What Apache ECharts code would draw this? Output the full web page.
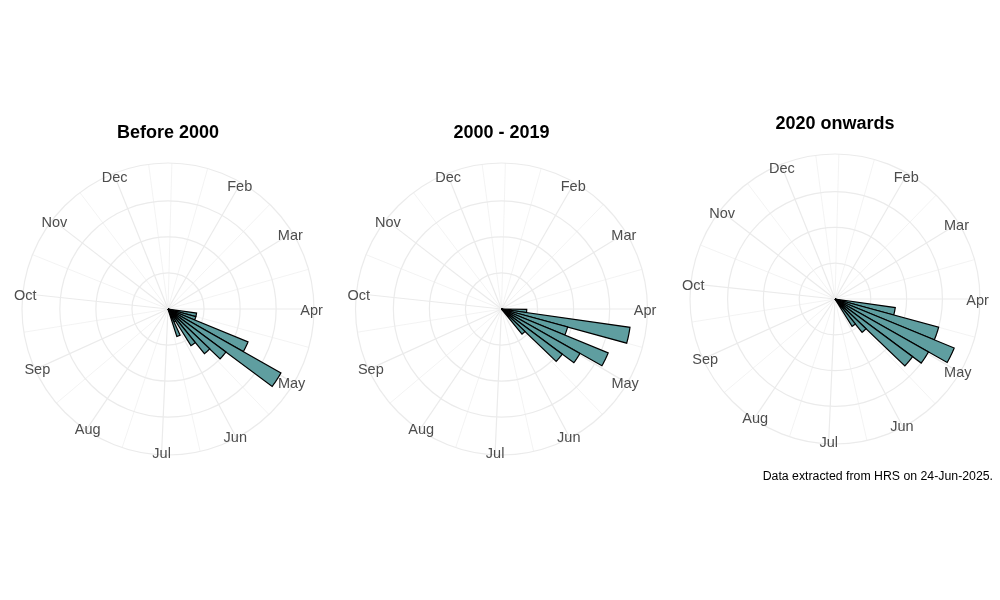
<!DOCTYPE html>
<html><head><meta charset="utf-8">
<script src="https://cdn.jsdelivr.net/npm/echarts@6/dist/echarts.min.js"></script>
<style>html,body{margin:0;padding:0;background:#fff}#chart{width:1000px;height:600px}</style>
</head><body><div id="chart"></div>
<script>
// ---- data ----
const panelTitles = ['Before 2000', '2000 - 2019', '2020 onwards'];
const monthLabels = ['Feb','Mar','Apr','May','Jun','Jul','Aug','Sep','Oct','Nov','Dec'];
const monthStartDays = [32, 60, 91, 121, 152, 182, 213, 244, 274, 305, 335];
const minorGridDays = [4, 18, 46, 75.5, 106, 136.5, 167, 197.5, 228.5, 259, 289.5, 320, 349];
const dayRange = [2.5, 356.5];
const weeksBefore2000 = [15, 16, 17, 18, 19, 20, 21, 22, 23];
const countsBefore2000 = [4, 4, 12, 18, 10, 8, 6, 2, 4];
const weeks2000to2019 = [14, 15, 16, 17, 18, 19, 20];
const counts2000to2019 = [7, 36, 19, 32, 25, 21, 9];
const weeks2020on = [15, 16, 17, 18, 19, 20, 21];
const counts2020on = [17, 30, 36, 30, 27, 12, 9];
const radialBreaks = [[5, 10, 15], [10, 20, 30], [10, 20, 30]];
const captionText = 'Data extracted from HRS on 24-Jun-2025.';

// ---- layout ----
const centers = [[168, 309], [501.5, 309], [835, 299]];
const radii = [146, 146, 145];
const titleTops = [124, 124, 115];
const LABEL_INSET = 2.5;
const LABEL_DY = 2;
const FONT = '"Liberation Sans", Arial, sans-serif';
const GRID = '#ebebeb';
const WEEK_DAYS = 7;
const weekStart = w => 7 * (w - 1) + 1;

const panels = [
  [weeksBefore2000, countsBefore2000],
  [weeks2000to2019, counts2000to2019],
  [weeks2020on, counts2020on]
];

function renderBar(params, api) {
  const r = api.value(0), d0 = api.value(1), d1 = d0 + WEEK_DAYS;
  const c0 = api.coord([0, d0]);
  const pts = [[c0[0], c0[1]]];
  const n = 16;
  for (let k = 0; k <= n; k++) {
    const c = api.coord([r, d0 + (d1 - d0) * k / n]);
    pts.push([c[0], c[1]]);
  }
  return {
    type: 'polygon', shape: { points: pts },
    style: { fill: '#5F9EA0', stroke: '#000', lineWidth: 1.2, lineJoin: 'miter' }
  };
}
function renderMonthLabel(params, api) {
  const c = api.coord([api.value(0), api.value(1)]);
  return {
    type: 'text', x: c[0], y: c[1] + LABEL_DY,
    style: {
      text: monthLabels[api.value(2)], fill: '#4d4d4d', fontSize: 14.5, fontFamily: FONT,
      align: 'center', verticalAlign: 'middle', textAlign: 'center', textVerticalAlign: 'middle'
    }
  };
}

const polar = [], angleAxis = [], radiusAxis = [], series = [], title = [];
panels.forEach(([weeks, counts], i) => {
  const M = Math.max(...counts);
  const outer = M * 0.45 / 0.4;
  const labelR = outer * (1 - LABEL_INSET / radii[i]);
  // minor grid polar
  polar.push({ center: centers[i], radius: radii[i] });
  angleAxis.push({
    polarIndex: 2 * i, type: 'value', min: dayRange[0], max: dayRange[1], startAngle: 90, clockwise: true,
    axisLine: { show: false }, axisLabel: { show: false },
    axisTick: { show: false, customValues: minorGridDays },
    splitLine: { show: true, lineStyle: { color: GRID, width: 0.6 } }
  });
  radiusAxis.push({
    polarIndex: 2 * i, type: 'value', min: 0, max: outer,
    axisLine: { show: false }, axisLabel: { show: false }, axisTick: { show: false }, splitLine: { show: false }
  });
  // major grid polar
  polar.push({ center: centers[i], radius: radii[i] });
  angleAxis.push({
    polarIndex: 2 * i + 1, type: 'value', min: dayRange[0], max: dayRange[1], startAngle: 90, clockwise: true,
    axisLine: { show: true, lineStyle: { color: GRID, width: 1.2 } },
    axisLabel: { show: false },
    axisTick: { show: false, customValues: monthStartDays },
    splitLine: { show: true, lineStyle: { color: GRID, width: 1.2 } }
  });
  radiusAxis.push({
    polarIndex: 2 * i + 1, type: 'value', min: 0, max: outer,
    axisLine: { show: false }, axisLabel: { show: false },
    axisTick: { show: false, customValues: radialBreaks[i] },
    splitLine: { show: true, lineStyle: { color: GRID, width: 1.2 } }
  });
  series.push({
    type: 'custom', coordinateSystem: 'polar', polarIndex: 2 * i + 1, silent: true, z: 3,
    encode: { radius: 0, angle: 1 },
    data: weeks.map((w, k) => [counts[k], weekStart(w)]),
    renderItem: renderBar
  });
  series.push({
    type: 'custom', coordinateSystem: 'polar', polarIndex: 2 * i + 1, silent: true, z: 4,
    encode: { radius: 0, angle: 1 },
    data: monthStartDays.map((d, k) => [labelR, d, k]),
    renderItem: renderMonthLabel
  });
  title.push({
    text: panelTitles[i], left: centers[i][0], top: titleTops[i], textAlign: 'center', padding: 0,
    textStyle: { fontSize: 18, fontWeight: 'bold', color: '#000', fontFamily: FONT }
  });
});
title.push({
  text: captionText, right: 7, top: 471, padding: 0,
  textStyle: { fontSize: 12.3, fontWeight: 'normal', color: '#000', fontFamily: FONT }
});

const chart = echarts.init(document.getElementById('chart'), null, { renderer: 'canvas' });
chart.setOption({ animation: false, backgroundColor: '#fff', title, polar, angleAxis, radiusAxis, series });
</script></body></html>
